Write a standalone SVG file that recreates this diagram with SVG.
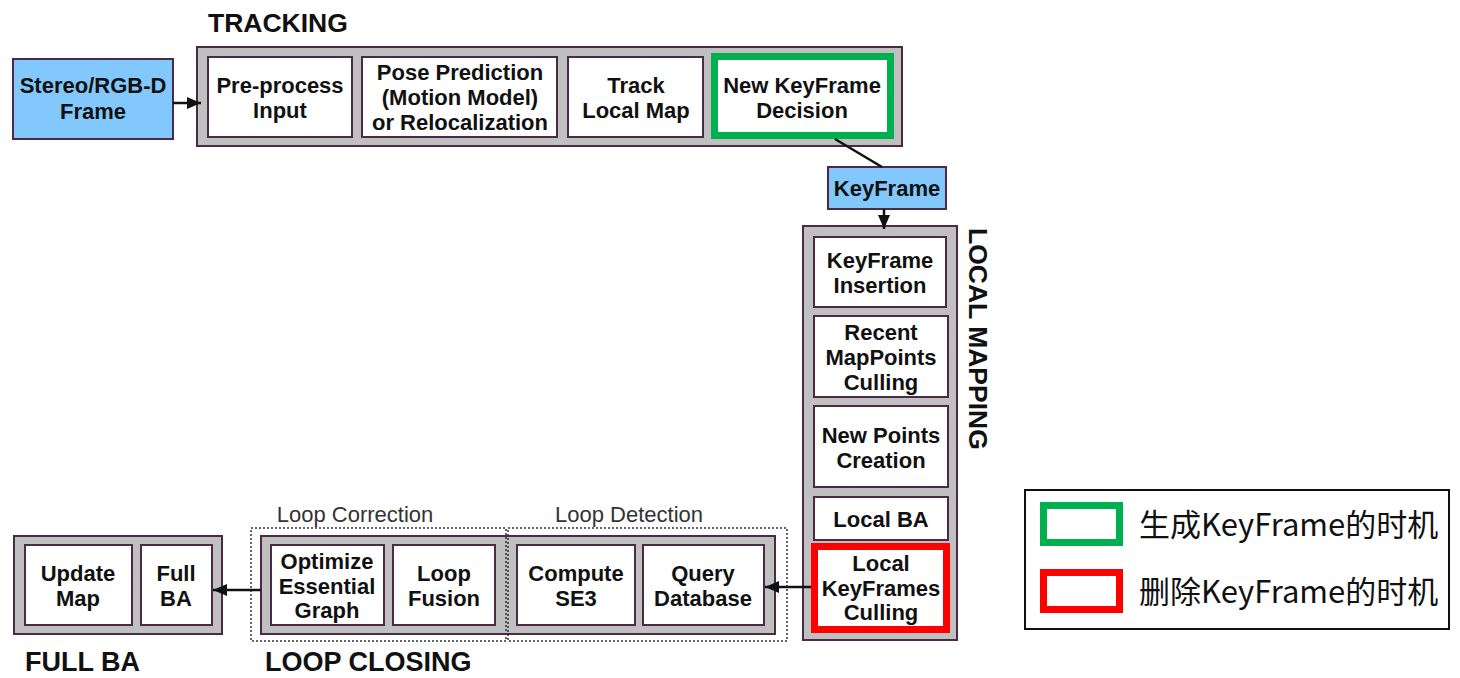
<svg xmlns="http://www.w3.org/2000/svg" width="1460" height="678" viewBox="0 0 1460 678">
<defs>
<style>
.cont{fill:#c0c0c0;stroke:#4b2a45;stroke-width:2}
.box{fill:#ffffff;stroke:#4b2a45;stroke-width:2}
.blue{fill:#82c8fc;stroke:#4b2a45;stroke-width:2}
.green{fill:#ffffff;stroke:#00b050;stroke-width:7}
.red{fill:#ffffff;stroke:#ff0000;stroke-width:7}
.dot{fill:none;stroke:#333333;stroke-width:1.5;stroke-dasharray:2 2}
.t{font-family:"Liberation Sans",Arial,sans-serif;font-weight:bold;font-size:22px;fill:#111111;text-anchor:middle}
.h{font-family:"Liberation Sans",Arial,sans-serif;font-weight:bold;font-size:26.5px;fill:#111111}
.s{font-family:"Liberation Sans",Arial,sans-serif;font-size:22px;fill:#333333;text-anchor:middle}
.lg{font-family:"Noto Sans CJK SC","Noto Sans",sans-serif;font-size:31px;fill:#111111}
.ln{stroke:#111111;stroke-width:2.5;fill:none}
</style>
<marker id="ah" markerWidth="14" markerHeight="12" refX="14" refY="6" orient="auto" markerUnits="userSpaceOnUse">
<path d="M0,0 L14,6 L0,12 Z" fill="#111111"/>
</marker>
</defs>
<rect width="1460" height="678" fill="#ffffff"/>

<g id="tracking">
<text class="h" x="208" y="32">TRACKING</text>
<rect class="cont" x="197" y="47" width="705" height="99"/>
</g>
<g id="stereo">
<rect class="blue" x="13" y="59" width="160" height="80"/>
<text class="t" x="93" y="93">Stereo/RGB-D</text>
<text class="t" x="93" y="119">Frame</text>
</g>
<g id="preprocess">
<rect class="box" x="208" y="57" width="144" height="80"/>
<text class="t" x="280" y="93">Pre-process</text>
<text class="t" x="280" y="118">Input</text>
</g>
<g id="pose">
<rect class="box" x="362" y="57" width="195" height="80"/>
<text class="t" x="460" y="80">Pose Prediction</text>
<text class="t" x="460" y="105">(Motion Model)</text>
<text class="t" x="460" y="130">or Relocalization</text>
</g>
<g id="tracklocal">
<rect class="box" x="568" y="57" width="135" height="80"/>
<text class="t" x="636" y="93">Track</text>
<text class="t" x="636" y="118">Local Map</text>
</g>
<g id="newkf">
<rect class="green" x="714.5" y="56.5" width="176" height="79"/>
<text class="t" x="802" y="93">New KeyFrame</text>
<text class="t" x="802" y="118">Decision</text>
</g>
<g id="keyframe">
<rect class="blue" x="828" y="167" width="118" height="42"/>
<text class="t" x="887" y="196">KeyFrame</text>
</g>

<g id="localmapping">
<rect class="cont" x="803" y="226" width="154" height="414"/>
<text class="h" transform="translate(969,228) rotate(90)">LOCAL MAPPING</text>
</g>
<g id="kfinsertion">
<rect class="box" x="814" y="237" width="132" height="70"/>
<text class="t" x="880" y="268">KeyFrame</text>
<text class="t" x="880" y="293">Insertion</text>
</g>
<g id="recentmp">
<rect class="box" x="814" y="316" width="134" height="81"/>
<text class="t" x="881" y="340">Recent</text>
<text class="t" x="881" y="365">MapPoints</text>
<text class="t" x="881" y="390">Culling</text>
</g>
<g id="newpoints">
<rect class="box" x="814" y="406" width="134" height="81"/>
<text class="t" x="881" y="443">New Points</text>
<text class="t" x="881" y="468">Creation</text>
</g>
<g id="localba">
<rect class="box" x="814" y="497" width="134" height="43"/>
<text class="t" x="881" y="527">Local BA</text>
</g>
<g id="kfculling">
<rect class="red" x="814.5" y="546.5" width="132" height="83"/>
<text class="t" x="881" y="571">Local</text>
<text class="t" x="881" y="596">KeyFrames</text>
<text class="t" x="881" y="620">Culling</text>
</g>

<g id="loopclosing">
<rect class="cont" x="261" y="536" width="514" height="98"/>
<rect class="dot" x="251" y="528" width="255" height="113"/>
<rect class="dot" x="508" y="528" width="279" height="113"/>
<text class="s" x="355" y="522">Loop Correction</text>
<text class="s" x="629" y="522">Loop Detection</text>
<text class="h" x="265" y="671" style="font-size:27px">LOOP CLOSING</text>
</g>
<g id="optimize">
<rect class="box" x="271" y="545" width="113" height="80"/>
<text class="t" x="327" y="569">Optimize</text>
<text class="t" x="327" y="594">Essential</text>
<text class="t" x="327" y="618">Graph</text>
</g>
<g id="loopfusion">
<rect class="box" x="393" y="545" width="102" height="80"/>
<text class="t" x="444" y="581">Loop</text>
<text class="t" x="444" y="606">Fusion</text>
</g>
<g id="computese3">
<rect class="box" x="517" y="545" width="118" height="80"/>
<text class="t" x="576" y="581">Compute</text>
<text class="t" x="576" y="606">SE3</text>
</g>
<g id="querydb">
<rect class="box" x="643" y="545" width="121" height="80"/>
<text class="t" x="703" y="581">Query</text>
<text class="t" x="703" y="606">Database</text>
</g>

<g id="fullba">
<rect class="cont" x="14" y="536" width="208" height="98"/>
<text class="h" x="25" y="671" style="font-size:27px">FULL BA</text>
</g>
<g id="updatemap">
<rect class="box" x="25" y="545" width="107" height="80"/>
<text class="t" x="78" y="581">Update</text>
<text class="t" x="78" y="606">Map</text>
</g>
<g id="fullbabox">
<rect class="box" x="141" y="545" width="71" height="80"/>
<text class="t" x="176" y="581">Full</text>
<text class="t" x="176" y="606">BA</text>
</g>

<g id="connectors">
<line class="ln" x1="173" y1="103" x2="201" y2="103" marker-end="url(#ah)"/>
<line class="ln" x1="835" y1="139" x2="882" y2="167"/>
<line class="ln" x1="884" y1="209" x2="884" y2="229" marker-end="url(#ah)"/>
<line class="ln" x1="811" y1="587" x2="765" y2="587" marker-end="url(#ah)"/>
<line class="ln" x1="261" y1="590" x2="213" y2="590" marker-end="url(#ah)"/>
</g>

<g id="legend">
<rect x="1025" y="490" width="424" height="139" fill="#ffffff" stroke="#111111" stroke-width="2"/>
<rect class="green" x="1043.5" y="505.5" width="76" height="37"/>
<rect class="red" x="1043.5" y="572.5" width="76" height="37"/>
<text class="lg" x="1139" y="536">生成KeyFrame的时机</text>
<text class="lg" x="1139" y="603">删除KeyFrame的时机</text>
</g>
</svg>
